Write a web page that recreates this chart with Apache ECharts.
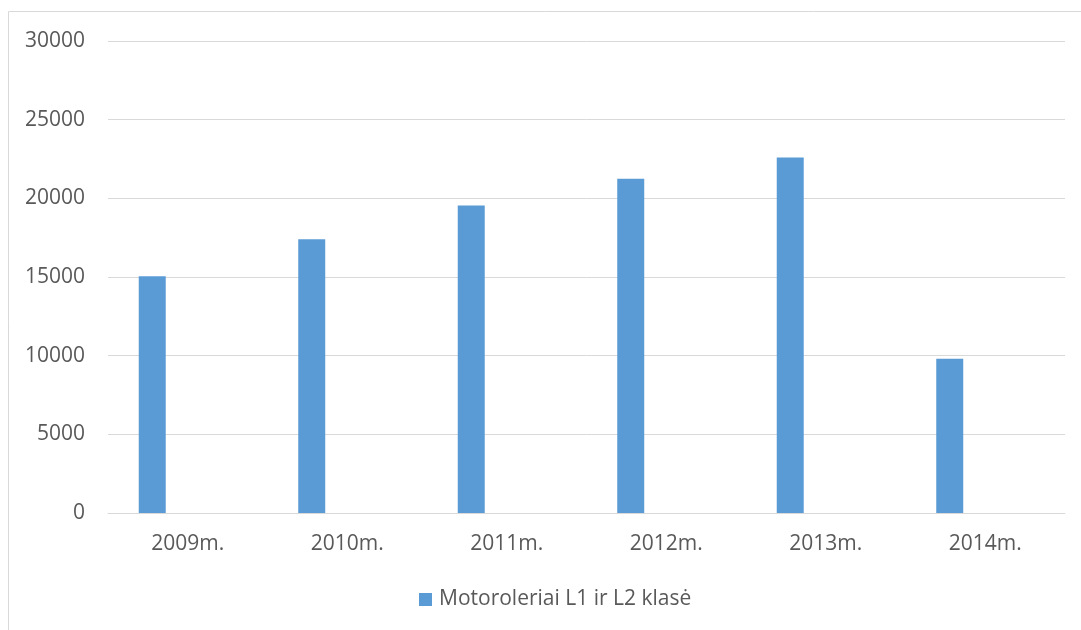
<!DOCTYPE html>
<html>
<head>
<meta charset="utf-8">
<script src="https://cdn.jsdelivr.net/npm/echarts@6/dist/echarts.min.js"></script>
<style>
html,body{margin:0;padding:0;background:#fff;}
#c{width:1081px;height:630px;}
</style>
</head>
<body>
<div id="c"></div>
<script>
const categories = ['2009m.', '2010m.', '2011m.', '2012m.', '2013m.', '2014m.'];
const seriesName = 'Motoroleriai L1 ir L2 klasė';
const values = [15050, 17400, 19550, 21250, 22600, 9800];
const emptyValues = [null, null, null, null, null, null];
const yTicks = { min: 0, max: 30000, interval: 5000 };

const chart = echarts.init(document.getElementById('c'), null, { renderer: 'canvas' });
const font = '"Open Sans", "Noto Sans", sans-serif';
chart.setOption({
  animation: false,
  backgroundColor: '#fff',
  graphic: [{
    type: 'rect',
    shape: { x: 8.5, y: 11.5, width: 1100, height: 700 },
    style: { fill: 'none', stroke: '#d9d9d9', lineWidth: 1 },
    silent: true
  }],
  grid: { left: 108, right: 16, top: 41, bottom: 117, containLabel: false },
  legend: {
    data: [seriesName],
    bottom: 15,
    left: 414,
    itemWidth: 13,
    itemHeight: 13,
    icon: 'rect',
    itemGap: 8,
    textStyle: { color: '#595959', fontSize: 21, fontFamily: font, padding: [0, 0, 0, 2] }
  },
  xAxis: {
    type: 'category',
    data: categories,
    axisLine: { lineStyle: { color: '#d9d9d9', width: 1 } },
    axisTick: { show: false },
    axisLabel: { color: '#595959', fontSize: 21, fontFamily: font, margin: 21 }
  },
  yAxis: {
    type: 'value',
    min: yTicks.min, max: yTicks.max, interval: yTicks.interval,
    axisLine: { show: false },
    axisTick: { show: false },
    splitLine: { lineStyle: { color: '#d9d9d9', width: 1 } },
    axisLabel: { color: '#595959', fontSize: 21, fontFamily: font, margin: 23,
      formatter: v => String(v) }
  },
  series: [{
    name: seriesName,
    type: 'bar',
    data: values,
    barWidth: 27,
    barGap: '163%',
    itemStyle: { color: '#5b9bd5' }
  }, {
    name: 'empty',
    type: 'bar',
    data: emptyValues,
    barWidth: 27,
    itemStyle: { color: '#ed7d31' }
  }]
});
</script>
</body>
</html>
